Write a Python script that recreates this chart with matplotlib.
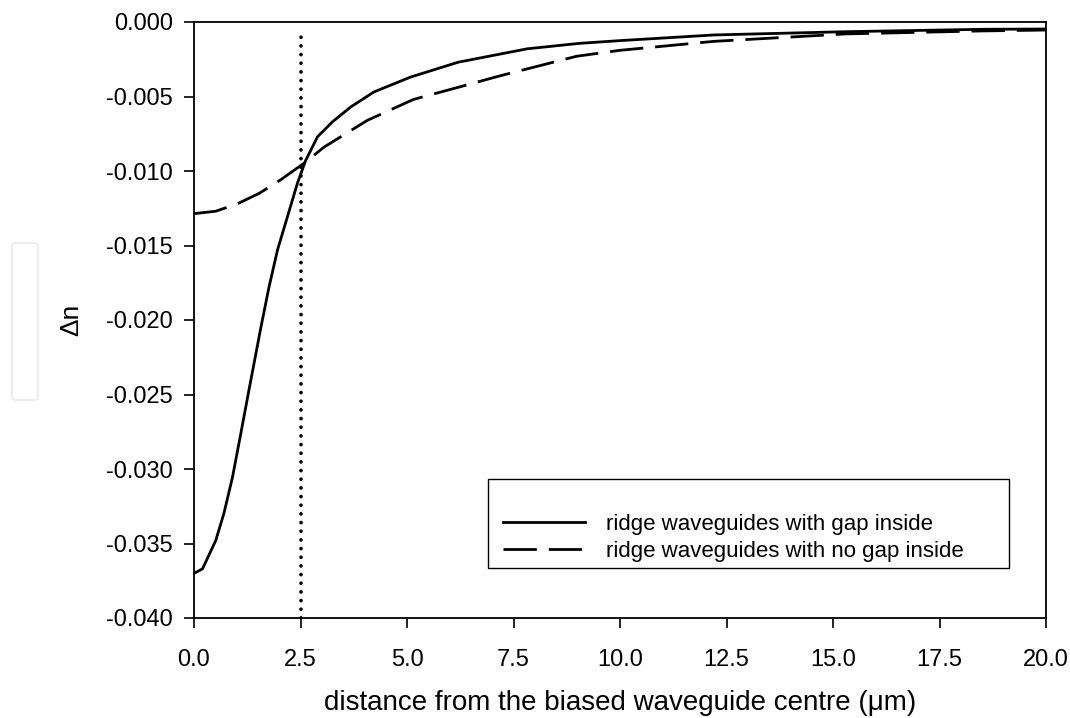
import matplotlib
matplotlib.use("Agg")
import matplotlib.pyplot as plt
from matplotlib.patches import FancyBboxPatch, Rectangle

plt.rcParams['font.family'] = ['Liberation Sans', 'DejaVu Sans']

# solid: ridge waveguides with gap inside
x_gap = [0.0, 0.2, 0.51, 0.7, 0.9, 1.1, 1.29, 1.57, 1.76, 1.96, 2.19, 2.43, 2.62, 2.9,
         3.25, 3.68, 4.22, 5.08, 6.2, 7.82, 9.06, 10.0, 12.2, 15.3, 18.5, 20.0]
y_gap = [-0.0370, -0.0367, -0.0348, -0.0330, -0.0306, -0.0276, -0.0247, -0.0205, -0.0178,
         -0.0153, -0.0131, -0.0108, -0.0093, -0.0077, -0.0067, -0.0057, -0.0047, -0.0037,
         -0.0027, -0.0018, -0.00143, -0.00125, -0.00087, -0.00065, -0.00049, -0.00047]

# dashed: ridge waveguides with no gap inside
x_nogap = [0.0, 0.51, 1.02, 1.53, 2.03, 2.62, 3.05, 4.07, 5.15, 6.18, 7.2, 8.98, 10.0,
           12.2, 15.3, 18.5, 20.0]
y_nogap = [-0.01286, -0.0127, -0.0122, -0.0115, -0.0106, -0.0094, -0.0084, -0.0066, -0.0052,
           -0.0044, -0.0036, -0.0023, -0.0019, -0.0013, -0.0008, -0.0006, -0.00054]

x_marker = 2.5
marker_y = [-0.040, -0.00075]

xticks = [0.0, 2.5, 5.0, 7.5, 10.0, 12.5, 15.0, 17.5, 20.0]
yticks = [0.000, -0.005, -0.010, -0.015, -0.020, -0.025, -0.030, -0.035, -0.040]

fig = plt.figure(figsize=(10.70, 7.18), dpi=100)
ax = fig.add_axes([194/1070, 1 - 618/718, (1046-194)/1070, (618-22)/718])

ax.plot(x_gap, y_gap, color='black', lw=2.0, solid_joinstyle='round',
        label='ridge waveguides with gap inside')
ax.plot(x_nogap, y_nogap, color='black', lw=2.0, dashes=(12, 4.3),
        label='ridge waveguides with no gap inside')
ax.plot([x_marker, x_marker], marker_y, color='black', lw=2.6,
        linestyle=(0, (0.05, 2.35)), dash_capstyle='round')

ax.set_xlim(0, 20)
ax.set_ylim(-0.040, 0.000)
ax.set_xticks(xticks)
ax.set_xticklabels([f"{v:.1f}" for v in xticks])
ax.set_yticks(yticks)
ax.set_yticklabels([f"{v:.3f}" if v != 0 else "0.000" for v in yticks])
ax.tick_params(direction='out', length=7, width=1.2, labelsize=17, colors='black')
ax.tick_params(axis='x', pad=15)
ax.tick_params(axis='y', pad=8)
for s in ax.spines.values():
    s.set_linewidth(1.3)

ax.set_xlabel('distance from the biased waveguide centre (\u03bcm)', fontsize=20, labelpad=14)
ax.set_ylabel('\u0394n', fontsize=19, labelpad=17)

leg = ax.legend(loc='upper left', bbox_to_anchor=(0.3627, 0.1745), fontsize=16,
                frameon=False, handlelength=3.7, handletextpad=0.95, borderpad=0,
                labelspacing=0.27, borderaxespad=0)
ax.add_patch(Rectangle((0.345, 0.0839), 0.9566 - 0.345, 0.2332 - 0.0839,
                       transform=ax.transAxes, facecolor='none', edgecolor='black',
                       lw=1.0, zorder=5))

# faint box at the left edge
fig.patches.append(FancyBboxPatch((12/1070, 1 - 400/718), 26/1070, 157/718,
                                  boxstyle='round,pad=0,rounding_size=0.004',
                                  transform=fig.transFigure, facecolor='white',
                                  edgecolor='#eceeee', lw=1.5))

fig.savefig('out.png', dpi=100)
